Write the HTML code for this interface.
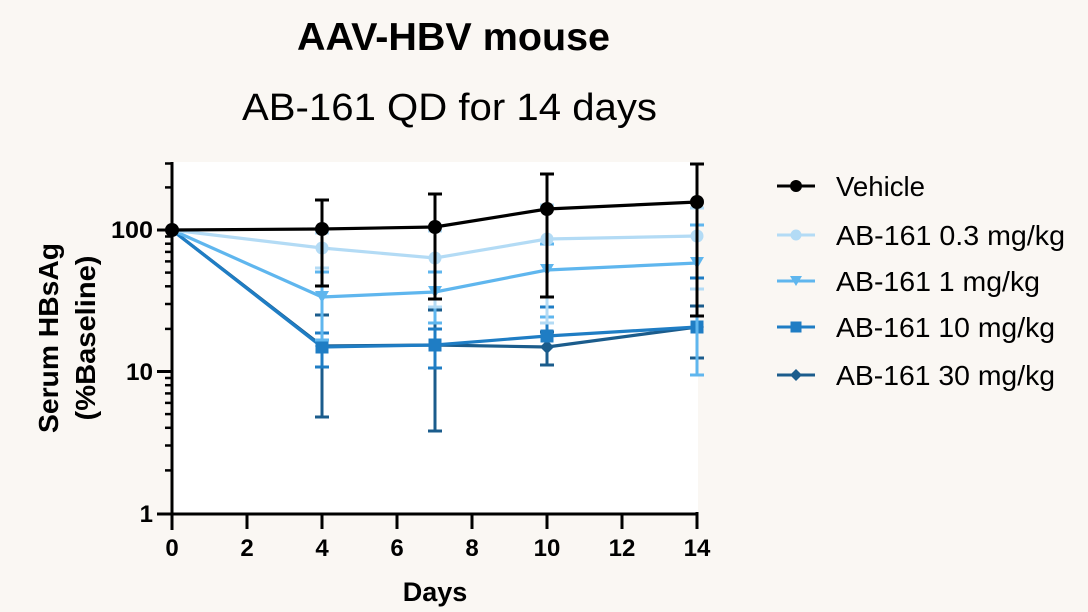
<!DOCTYPE html>
<html>
<head>
<meta charset="utf-8">
<style>
  html, body { margin:0; padding:0; }
  body { width:1088px; height:612px; background:#faf7f3; overflow:hidden; }
  svg { display:block; }
  text { font-family: "Liberation Sans", Arial, sans-serif; fill:#000; }
</style>
</head>
<body>
<svg width="1088" height="612" viewBox="0 0 1088 612" xmlns="http://www.w3.org/2000/svg">
  <rect x="0" y="0" width="1088" height="612" fill="#faf7f3"/>
  <!-- Titles -->
  <text x="297" y="50" font-size="39" font-weight="bold" textLength="313" lengthAdjust="spacingAndGlyphs">AAV-HBV mouse</text>
  <text x="242" y="120" font-size="38" textLength="415" lengthAdjust="spacingAndGlyphs">AB-161 QD for 14 days</text>

  <!-- plot area -->
  <rect x="172" y="162" width="526" height="352" fill="#ffffff"/>

  <!-- axes -->
  <g stroke="#000" stroke-width="3" fill="none">
    <line x1="172" y1="162" x2="172" y2="530"/>
    <line x1="157" y1="514" x2="697" y2="514"/>
    <!-- major y ticks -->
    <line x1="157" y1="230" x2="172" y2="230"/>
    <line x1="157" y1="371.5" x2="172" y2="371.5"/>
    <!-- x ticks -->
    <line x1="247" y1="514" x2="247" y2="529"/>
    <line x1="322" y1="514" x2="322" y2="529"/>
    <line x1="397" y1="514" x2="397" y2="529"/>
    <line x1="472" y1="514" x2="472" y2="529"/>
    <line x1="547" y1="514" x2="547" y2="529"/>
    <line x1="622" y1="514" x2="622" y2="529"/>
    <line x1="697" y1="512" x2="697" y2="529"/>
  </g>
  <g stroke="#000" stroke-width="2.5">
    <line x1="165" y1="470.4" x2="172" y2="470.4"/>
    <line x1="165" y1="445.5" x2="172" y2="445.5"/>
    <line x1="165" y1="427.8" x2="172" y2="427.8"/>
    <line x1="165" y1="414.1" x2="172" y2="414.1"/>
    <line x1="165" y1="402.9" x2="172" y2="402.9"/>
    <line x1="165" y1="393.4" x2="172" y2="393.4"/>
    <line x1="165" y1="385.2" x2="172" y2="385.2"/>
    <line x1="165" y1="378.0" x2="172" y2="378.0"/>
    <line x1="165" y1="328.9" x2="172" y2="328.9"/>
    <line x1="165" y1="304.0" x2="172" y2="304.0"/>
    <line x1="165" y1="286.3" x2="172" y2="286.3"/>
    <line x1="165" y1="272.6" x2="172" y2="272.6"/>
    <line x1="165" y1="261.4" x2="172" y2="261.4"/>
    <line x1="165" y1="251.9" x2="172" y2="251.9"/>
    <line x1="165" y1="243.7" x2="172" y2="243.7"/>
    <line x1="165" y1="236.5" x2="172" y2="236.5"/>
    <line x1="165" y1="187.4" x2="172" y2="187.4"/>
    <line x1="165" y1="163.5" x2="172" y2="163.5"/>
  </g>

  <!-- y tick labels -->
  <g font-size="24" font-weight="bold" text-anchor="end">
    <text x="153" y="238" textLength="42" lengthAdjust="spacingAndGlyphs">100</text>
    <text x="153" y="380" textLength="27" lengthAdjust="spacingAndGlyphs">10</text>
    <text x="153" y="522">1</text>
  </g>
  <!-- x tick labels -->
  <g font-size="24" font-weight="bold" text-anchor="middle">
    <text x="172" y="556">0</text>
    <text x="247" y="556">2</text>
    <text x="322" y="556">4</text>
    <text x="397" y="556">6</text>
    <text x="472" y="556">8</text>
    <text x="547" y="556">10</text>
    <text x="622" y="556">12</text>
    <text x="697" y="556">14</text>
  </g>
  <text x="435" y="601" font-size="27" font-weight="bold" text-anchor="middle">Days</text>

  <!-- y axis title -->
  <text transform="translate(58,338) rotate(-90)" font-size="28" font-weight="bold" text-anchor="middle" textLength="190" lengthAdjust="spacingAndGlyphs">Serum HBsAg</text>
  <text transform="translate(95,338) rotate(-90)" font-size="28" font-weight="bold" text-anchor="middle" textLength="165" lengthAdjust="spacingAndGlyphs">(%Baseline)</text>

  <!-- ===== Series (drawn back to front) ===== -->
  <!-- 30 mg/kg -->
  <g stroke="#1b5c8c" stroke-width="3" fill="none">
    <path d="M322 315V417M315 315H329M315 417H329"/>
    <path d="M435 310V431M428 310H442M428 431H442"/>
    <path d="M547 332V365M540 332H554M540 365H554"/>
    <path d="M697 306V358M690 306H704M690 358H704"/>
    <polyline stroke-width="3.2" stroke-linejoin="round" points="172,230 322,346 435,345 547,347 697,327"/>
  </g>
  <g fill="#1b5c8c">
    <polygon points="322,339 329,346 322,353 315,346"/>
    <polygon points="435,338 442,345 435,352 428,345"/>
    <polygon points="547,340 554,347 547,354 540,347"/>
    <polygon points="697,320 704,327 697,334 690,327"/>
  </g>

  <!-- 10 mg/kg -->
  <g stroke="#1f7dc4" stroke-width="3" fill="none">
    <path d="M322 333V367M315 333H329M315 367H329"/>
    <path d="M435 329V368M428 329H442M428 368H442"/>
    <path d="M547 307V340M540 307H554"/>
    <path d="M697 278V327M690 278H704"/>
    <polyline stroke-width="3.2" stroke-linejoin="round" points="172,230 322,347 435,345 547,336 697,327"/>
  </g>
  <g fill="#1f7dc4">
    <rect x="315.5" y="340.5" width="13" height="13"/>
    <rect x="428.5" y="338.5" width="13" height="13"/>
    <rect x="540.5" y="329.5" width="13" height="13"/>
    <rect x="690.5" y="320.5" width="13" height="13"/>
  </g>

  <!-- 1 mg/kg -->
  <g stroke="#5fb6ee" stroke-width="3" fill="none">
    <path d="M322 272V340M315 272H329M315 340H329"/>
    <path d="M435 272V323M428 272H442M428 323H442"/>
    <path d="M547 244V317M540 244H554M540 317H554"/>
    <path d="M697 225V375M690 225H704M690 375H704"/>
    <polyline stroke-width="3.2" stroke-linejoin="round" points="172,230 322,297 435,292 547,270 697,263"/>
  </g>
  <g fill="#5fb6ee">
    <polygon points="315,291 329,291 322,303"/>
    <polygon points="428,286 442,286 435,298"/>
    <polygon points="540,264 554,264 547,276"/>
    <polygon points="690,257 704,257 697,269"/>
  </g>

  <!-- 0.3 mg/kg -->
  <g stroke="#b3dbf5" stroke-width="3" fill="none">
    <path d="M322 233V268M315 233H329M315 268H329"/>
    <path d="M435 231V307M428 231H442M428 307H442"/>
    <path d="M547 205V323M540 205H554M540 323H554"/>
    <path d="M697 208V289M690 208H704M690 289H704"/>
    <polyline stroke-width="3.2" stroke-linejoin="round" points="172,230 322,248 435,258 547,239 697,236"/>
  </g>
  <g fill="#b3dbf5">
    <circle cx="322" cy="248" r="6.5"/>
    <circle cx="435" cy="258" r="6.5"/>
    <circle cx="547" cy="239" r="6.5"/>
    <circle cx="697" cy="236" r="6.5"/>
  </g>

  <!-- Vehicle -->
  <g stroke="#000" stroke-width="3" fill="none">
    <path d="M322 200V286M315 200H329M315 286H329"/>
    <path d="M435 194V299M428 194H442M428 299H442"/>
    <path d="M547 174V297M540 174H554M540 297H554"/>
    <path d="M697 164V316M690 164H704M690 316H704"/>
    <polyline stroke-width="3.2" stroke-linejoin="round" points="172,230 322,229 435,227 547,209 697,202"/>
  </g>
  <g fill="#000">
    <circle cx="172" cy="230" r="7"/>
    <circle cx="322" cy="229" r="7"/>
    <circle cx="435" cy="227" r="7"/>
    <circle cx="547" cy="209" r="7"/>
    <circle cx="697" cy="202" r="7"/>
  </g>

  <!-- ===== Legend ===== -->
  <g stroke-width="3">
    <line x1="777" y1="186" x2="815" y2="186" stroke="#000"/>
    <line x1="777" y1="235" x2="815" y2="235" stroke="#b3dbf5"/>
    <line x1="777" y1="281" x2="815" y2="281" stroke="#5fb6ee"/>
    <line x1="777" y1="327" x2="815" y2="327" stroke="#1f7dc4"/>
    <line x1="777" y1="375" x2="815" y2="375" stroke="#1b5c8c"/>
  </g>
  <circle cx="796" cy="186" r="6" fill="#000"/>
  <circle cx="796" cy="235" r="5.5" fill="#b3dbf5"/>
  <polygon points="790,276 802,276 796,286" fill="#5fb6ee"/>
  <rect x="790.5" y="321.5" width="11" height="11" fill="#1f7dc4"/>
  <polygon points="796,369 802,375 796,381 790,375" fill="#1b5c8c"/>

  <g font-size="28" fill="#111">
    <text x="836" y="196" textLength="89" lengthAdjust="spacingAndGlyphs">Vehicle</text>
    <text x="836" y="245" textLength="229" lengthAdjust="spacingAndGlyphs">AB-161 0.3 mg/kg</text>
    <text x="836" y="291" textLength="204" lengthAdjust="spacingAndGlyphs">AB-161 1 mg/kg</text>
    <text x="836" y="337" textLength="219" lengthAdjust="spacingAndGlyphs">AB-161 10 mg/kg</text>
    <text x="836" y="385" textLength="219" lengthAdjust="spacingAndGlyphs">AB-161 30 mg/kg</text>
  </g>
</svg>
</body>
</html>
